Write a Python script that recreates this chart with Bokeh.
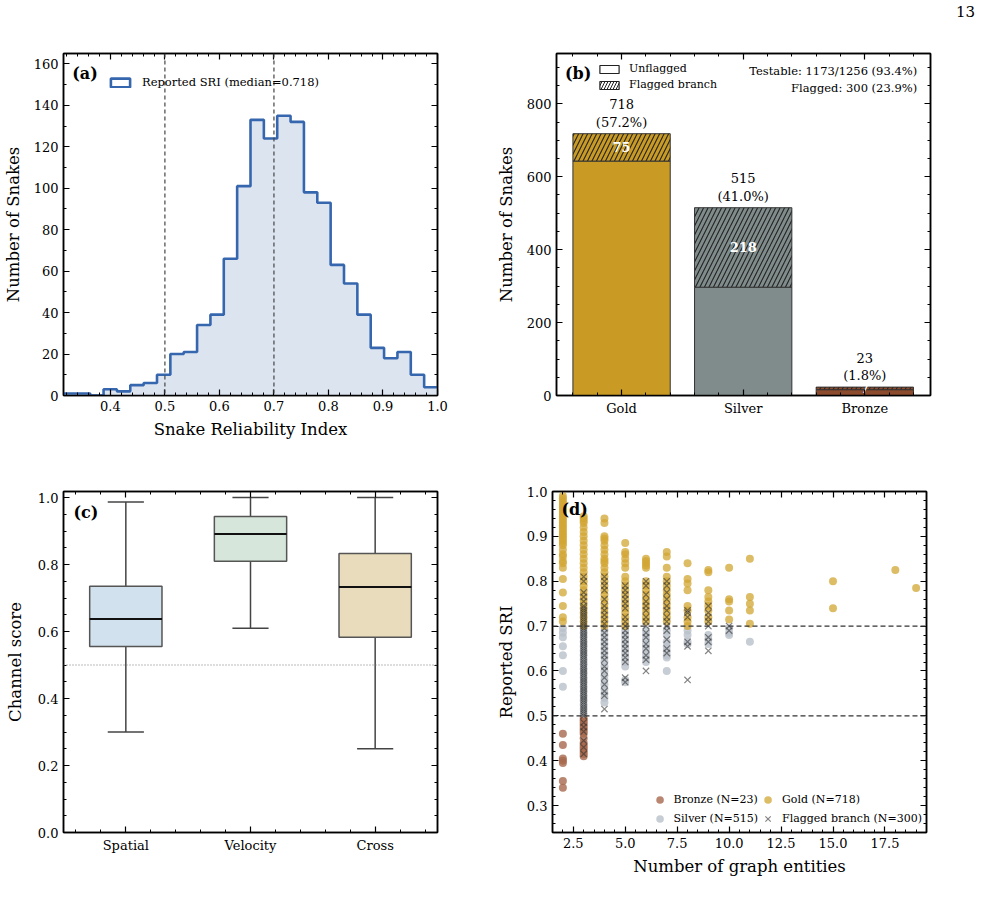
from bokeh.plotting import figure
from bokeh.layouts import column, row
from bokeh.models import (LinearAxis, Legend, LegendItem, Label, Span, FixedTicker,
                          SingleIntervalTicker, Range1d, NumeralTickFormatter, Div)
from bokeh.core.properties import value
from bokeh.embed import file_html
from bokeh.resources import INLINE

FONT = "DejaVu Serif"

# ---------------- data ----------------
# (a) histogram of reported SRI
bin_start = 0.314
bin_width = 0.0245
hist_counts = [1, 1, 0, 3, 2, 5, 6, 10, 20, 21, 34, 39, 66, 101, 133, 124,
               135, 132, 98, 93, 63, 54, 39, 23, 18, 21, 10, 4]
sri_median = 0.718
sri_vlines = [0.5, 0.7]

# (b) tier counts
tiers = ["Gold", "Silver", "Bronze"]
tier_total = [718, 515, 23]
tier_flagged = [75, 218, 7]
n_all = 1256
n_testable = 1173
n_flagged = 300

# (c) channel score boxes
channels = ["Spatial", "Velocity", "Cross"]
ch_whislo = [0.30, 0.61, 0.25]
ch_q1 = [0.555, 0.81, 0.583]
ch_med = [0.637, 0.891, 0.733]
ch_q3 = [0.735, 0.943, 0.833]
ch_whishi = [0.987, 1.0, 1.0]
ch_ref = 0.5

# (d) SRI vs number of graph entities
gold_pts = {
    2: [0.99, 0.985, 0.98, 0.975, 0.97, 0.965, 0.96, 0.955, 0.95, 0.945, 0.94, 0.935,
        0.93, 0.925, 0.92, 0.915, 0.91, 0.905, 0.90, 0.895, 0.89, 0.885, 0.88, 0.87,
        0.86, 0.855, 0.845, 0.84, 0.83, 0.805, 0.775, 0.745, 0.72, 0.71],
    3: [0.945, 0.94, 0.935, 0.93, 0.92, 0.91, 0.90, 0.89, 0.88, 0.87, 0.86, 0.85,
        0.84, 0.83, 0.82, 0.81, 0.80, 0.79, 0.78, 0.77, 0.76, 0.75, 0.74, 0.73,
        0.72, 0.71, 0.70],
    4: [0.94, 0.93, 0.90, 0.895, 0.89, 0.88, 0.87, 0.86, 0.85, 0.845, 0.84, 0.83,
        0.82, 0.81, 0.80, 0.79, 0.78, 0.77, 0.76, 0.75, 0.74, 0.73, 0.72, 0.71, 0.70],
    5: [0.885, 0.865, 0.86, 0.85, 0.84, 0.83, 0.81, 0.80, 0.79, 0.78, 0.77, 0.76,
        0.75, 0.74, 0.73, 0.72, 0.71, 0.70],
    6: [0.85, 0.845, 0.84, 0.835, 0.83, 0.80, 0.79, 0.78, 0.77, 0.76, 0.75, 0.74,
        0.73, 0.72, 0.71],
    7: [0.865, 0.855, 0.83, 0.81, 0.80, 0.79, 0.78, 0.77, 0.76, 0.75, 0.74, 0.73,
        0.72, 0.71],
    8: [0.84, 0.805, 0.795, 0.78, 0.745, 0.735, 0.72, 0.71, 0.70],
    9: [0.825, 0.82, 0.78, 0.765, 0.755, 0.745, 0.735, 0.72, 0.71],
    10: [0.83, 0.76, 0.755, 0.735, 0.715],
    11: [0.85, 0.765, 0.75, 0.735, 0.705],
    15: [0.80, 0.74],
    18: [0.825],
    19: [0.785],
}
silver_pts = {
    2: [0.695, 0.685, 0.675, 0.655, 0.635, 0.60, 0.565],
    3: [0.695, 0.685, 0.675, 0.665, 0.655, 0.645, 0.635, 0.625, 0.615, 0.605,
        0.595, 0.585, 0.575, 0.565, 0.555, 0.545, 0.535, 0.525, 0.515, 0.505],
    4: [0.69, 0.68, 0.67, 0.66, 0.65, 0.64, 0.63, 0.62, 0.61, 0.60, 0.59, 0.58,
        0.57, 0.56, 0.55, 0.54, 0.53],
    5: [0.69, 0.68, 0.67, 0.66, 0.65, 0.64, 0.63, 0.62, 0.61, 0.58, 0.575],
    6: [0.69, 0.68, 0.67, 0.66, 0.65, 0.64, 0.63, 0.62],
    7: [0.69, 0.68, 0.665, 0.655, 0.645, 0.635, 0.63, 0.60],
    8: [0.69, 0.68, 0.665, 0.66],
    9: [0.68, 0.67, 0.66],
    10: [0.695, 0.685, 0.68],
    11: [0.665],
}
bronze_pts = {
    2: [0.46, 0.435, 0.405, 0.40, 0.395, 0.355, 0.34],
    3: [0.495, 0.49, 0.485, 0.48, 0.475, 0.47, 0.465, 0.46, 0.45, 0.44, 0.435,
        0.43, 0.425, 0.42, 0.415, 0.41],
}
flagged_pts = {
    3: [0.81, 0.80, 0.775, 0.765, 0.755, 0.745, 0.74, 0.735, 0.73, 0.725, 0.72,
        0.715, 0.71, 0.705, 0.70, 0.695, 0.69, 0.685, 0.68, 0.675, 0.67, 0.665,
        0.66, 0.655, 0.65, 0.645, 0.64, 0.635, 0.63, 0.625, 0.62, 0.615, 0.61,
        0.605, 0.60, 0.595, 0.59, 0.585, 0.58, 0.575, 0.57, 0.565, 0.56, 0.555,
        0.55, 0.545, 0.54, 0.535, 0.53, 0.525, 0.52, 0.515, 0.51, 0.505, 0.50,
        0.485, 0.475, 0.465, 0.445, 0.43, 0.415],
    4: [0.81, 0.80, 0.79, 0.78, 0.76, 0.745, 0.735, 0.725, 0.715, 0.705, 0.695,
        0.685, 0.675, 0.665, 0.655, 0.645, 0.635, 0.625, 0.61, 0.60, 0.585, 0.57,
        0.555, 0.545, 0.515],
    5: [0.79, 0.78, 0.77, 0.76, 0.75, 0.74, 0.72, 0.71, 0.70, 0.69, 0.68, 0.67,
        0.66, 0.65, 0.64, 0.63, 0.62, 0.585, 0.575],
    6: [0.80, 0.79, 0.77, 0.755, 0.745, 0.735, 0.72, 0.71, 0.70, 0.685, 0.675,
        0.66, 0.65, 0.635, 0.625, 0.60],
    7: [0.80, 0.79, 0.775, 0.76, 0.745, 0.735, 0.72, 0.71, 0.70, 0.69, 0.67,
        0.65, 0.64],
    8: [0.735, 0.73, 0.72, 0.665, 0.655, 0.58],
    9: [0.745, 0.73, 0.72, 0.71, 0.70, 0.675, 0.665, 0.645],
    10: [0.70, 0.69],
}
sri_bands = [0.7, 0.5]
page_number = "13"

TIER_COLORS = ["#c99b24", "#7f8c8b", "#8c4b2c"]
BOX_COLORS = ["#d2e1ee", "#d6e6da", "#e8dcbc"]


def flat(d):
    xs, ys = [], []
    for k, vals in d.items():
        for v in vals:
            xs.append(k)
            ys.append(v)
    return xs, ys


def mkfig(xr, yr, bl, br, bt, bb, fh):
    p = figure(x_range=xr, y_range=yr, frame_width=374, frame_height=fh,
               min_border_left=bl, min_border_right=br, min_border_top=bt,
               min_border_bottom=bb, output_backend="svg", toolbar_location=None)
    p.grid.visible = False
    p.outline_line_color = "black"
    p.outline_line_width = 1.5
    p.background_fill_color = "white"
    p.border_fill_color = "white"
    return p


def dress(p, xt, yt, xlabel=None, ylabel=None, xover=None, xfmt=None, yfmt=None,
          xstand=6, ystand=6):
    p.xaxis.ticker = xt
    p.yaxis.ticker = yt
    if xfmt:
        p.xaxis.formatter = NumeralTickFormatter(format=xfmt)
    if yfmt:
        p.yaxis.formatter = NumeralTickFormatter(format=yfmt)
    if xover:
        p.xaxis.major_label_overrides = xover
    if xlabel:
        p.xaxis.axis_label = xlabel
    if ylabel:
        p.yaxis.axis_label = ylabel
    p.xaxis.axis_label_standoff = xstand
    p.yaxis.axis_label_standoff = ystand
    top = LinearAxis(ticker=xt)
    right = LinearAxis(ticker=yt)
    for ax in (top, right):
        ax.major_label_text_color = None
        ax.major_label_text_font_size = "6px"
        ax.major_label_standoff = 0
    p.add_layout(top, "above")
    p.add_layout(right, "right")
    for ax in p.axis:
        ax.major_tick_in = 6
        ax.major_tick_out = 0
        ax.minor_tick_in = 3
        ax.minor_tick_out = 0
        ax.axis_line_width = 1.5
        ax.axis_line_color = "black"
        ax.major_tick_line_width = 1.2
        ax.minor_tick_line_width = 1.0
        ax.major_tick_line_color = "black"
        ax.minor_tick_line_color = "black"
        ax.major_label_text_font = FONT
        ax.axis_label_text_font = FONT
        ax.axis_label_text_font_style = "normal"
        ax.axis_label_text_font_size = "16.5px"
        ax.axis_label_text_color = "black"
    for ax in p.below + p.left:
        ax.major_label_text_font_size = "13px"
        ax.major_label_text_color = "black"
        ax.major_label_standoff = 5


def panel_label(p, txt, x, y):
    p.add_layout(Label(x=x, y=y, text=txt, text_font=FONT, text_font_style="bold",
                       text_font_size="16px", text_baseline="top", text_align="left",
                       text_color="black"))


def legend_style(leg):
    leg.border_line_color = None
    leg.background_fill_alpha = 0
    leg.label_text_font = FONT
    leg.label_text_color = "black"
    leg.padding = 2
    leg.margin = 0


TOP_PAD = 28

# ---------------- (a) ----------------
edges = [bin_start + i * bin_width for i in range(len(hist_counts) + 1)]
pa = mkfig(Range1d(bin_start, 1.0), Range1d(0, 165), 63, 56, 53 - TOP_PAD, 48, 342)
pa.varea_step(x=edges, y1=[0] * len(edges), y2=hist_counts + [hist_counts[-1]],
              step_mode="after", fill_color="#dce4f0")
pa.step(x=edges, y=hist_counts + [hist_counts[-1]], mode="after",
        line_color="#3667ae", line_width=2.6)
for v in sri_vlines:
    pa.add_layout(Span(location=v, dimension="height", line_color="#444444",
                       line_dash="4 3", line_width=1.2))
proxy_a = pa.quad(left=[5], right=[6], bottom=[500], top=[600], fill_color="white",
                  line_color="#3667ae", line_width=2.6)
leg_a = Legend(items=[LegendItem(label=f"Reported SRI (median={sri_median:.3f})",
                                 renderers=[proxy_a])],
               location=(45, 306), label_text_font_size="11.5px",
               glyph_width=24, glyph_height=11, label_standoff=10)
legend_style(leg_a)
pa.add_layout(leg_a)
panel_label(pa, "(a)", 0.330, 160)
dress(pa, SingleIntervalTicker(interval=0.1, num_minor_ticks=5),
      SingleIntervalTicker(interval=20, num_minor_ticks=2),
      xlabel="Snake Reliability Index", ylabel="Number of Snakes", xfmt="0.0",
      xstand=6, ystand=8)

# ---------------- (b) ----------------
xs_b = list(range(len(tiers)))
unflagged = [t - f for t, f in zip(tier_total, tier_flagged)]
pb = mkfig(Range1d(-0.535, 2.54), Range1d(0, 938), 57, 57, 53 - TOP_PAD, 48, 342)
pb.vbar(x=xs_b, width=0.8, bottom=0, top=unflagged, fill_color=TIER_COLORS,
        line_color="#333333", line_width=1)
pb.vbar(x=xs_b, width=0.8, bottom=unflagged, top=tier_total, fill_color=TIER_COLORS,
        line_color="#333333", line_width=1, hatch_pattern="/", hatch_color="#222222",
        hatch_scale=9, hatch_weight=1.1)
pb.text(x=xs_b, y=tier_total,
        text=[f"{t}\n({t / n_all * 100:.1f}%)" for t in tier_total],
        text_align="center", text_baseline="bottom", y_offset=-4,
        text_font=value(FONT), text_font_size="13px", text_color="black",
        text_line_height=1.15)
pb.text(x=xs_b, y=[(u + t) / 2 for u, t in zip(unflagged, tier_total)],
        text=[str(f) for f in tier_flagged], text_align="center",
        text_baseline="middle", text_font=value(FONT), text_font_size="13px",
        text_font_style="bold", text_color="white")
pb.text(x=[2.43], y=[909],
        text=[f"Testable: {n_testable}/{n_all} ({n_testable / n_all * 100:.1f}%)\n"
              f"Flagged: {n_flagged} ({n_flagged / n_all * 100:.1f}%)"],
        text_align="right", text_baseline="top", text_font=value(FONT),
        text_font_size="11.5px", text_color="black", text_line_height=1.2)
proxy_u = pb.quad(left=[10], right=[11], bottom=[5000], top=[6000], fill_color="white",
                  line_color="#222222", line_width=1.2)
proxy_f = pb.quad(left=[10], right=[11], bottom=[5000], top=[6000], fill_color="white",
                  line_color="#222222", line_width=1.2, hatch_pattern="/",
                  hatch_color="#222222", hatch_scale=6, hatch_weight=1)
leg_b = Legend(items=[LegendItem(label="Unflagged", renderers=[proxy_u]),
                      LegendItem(label="Flagged branch", renderers=[proxy_f])],
               location=(41, 304), label_text_font_size="11px",
               glyph_width=24, glyph_height=10, spacing=3,
               label_standoff=8, label_height=12)
legend_style(leg_b)
pb.add_layout(leg_b)
panel_label(pb, "(b)", -0.465, 909)
tick_b = FixedTicker(ticks=xs_b, minor_ticks=[-0.4, -0.2, 0.2, 0.4, 0.6, 0.8, 1.2,
                                             1.4, 1.6, 1.8, 2.2, 2.4])
dress(pb, tick_b, SingleIntervalTicker(interval=200, num_minor_ticks=4),
      ylabel="Number of Snakes", xover={i: t for i, t in enumerate(tiers)}, ystand=8)

# ---------------- (c) ----------------
xs_c = [1, 2, 3]
pc = mkfig(Range1d(0.5, 3.5), Range1d(0, 1.018), 63, 56, 48, 68, 341)
pc.add_layout(Span(location=ch_ref, dimension="width", line_color="#777777",
                   line_dash="1 2", line_width=1))
pc.segment(x0=xs_c, y0=ch_q3, x1=xs_c, y1=ch_whishi, line_color="#444444", line_width=1.5)
pc.segment(x0=xs_c, y0=ch_whislo, x1=xs_c, y1=ch_q1, line_color="#444444", line_width=1.5)
pc.segment(x0=[x - 0.145 for x in xs_c], y0=ch_whishi, x1=[x + 0.145 for x in xs_c],
           y1=ch_whishi, line_color="#444444", line_width=1.5)
pc.segment(x0=[x - 0.145 for x in xs_c], y0=ch_whislo, x1=[x + 0.145 for x in xs_c],
           y1=ch_whislo, line_color="#444444", line_width=1.5)
pc.vbar(x=xs_c, width=0.58, bottom=ch_q1, top=ch_q3, fill_color=BOX_COLORS,
        line_color="#555555", line_width=1.5)
pc.segment(x0=[x - 0.29 for x in xs_c], y0=ch_med, x1=[x + 0.29 for x in xs_c],
           y1=ch_med, line_color="#111111", line_width=2)
panel_label(pc, "(c)", 0.58, 0.985)
tick_c = FixedTicker(ticks=xs_c, minor_ticks=[0.6, 0.8, 1.2, 1.4, 1.6, 1.8, 2.2, 2.4,
                                             2.6, 2.8, 3.2, 3.4])
dress(pc, tick_c, SingleIntervalTicker(interval=0.2, num_minor_ticks=4),
      ylabel="Channel score", xover={i + 1: c for i, c in enumerate(channels)},
      yfmt="0.0", ystand=10)

# ---------------- (d) ----------------
pd_ = mkfig(Range1d(1.5, 19.5), Range1d(0.24, 1.0), 56, 57, 48, 68, 341)
for v in sri_bands:
    pd_.add_layout(Span(location=v, dimension="width", line_color="#333333",
                        line_dash="5 3", line_width=1.1))
bx, by = flat(bronze_pts)
sx, sy = flat(silver_pts)
gx, gy = flat(gold_pts)
fx, fy = flat(flagged_pts)
rb = pd_.scatter(bx, by, size=8, color="#a8694d", alpha=0.8, line_color=None)
rs = pd_.scatter(sx, sy, size=8, color="#b9c1c9", alpha=0.8, line_color=None)
rg = pd_.scatter(gx, gy, size=8, color="#d2a633", alpha=0.75, line_color=None)
rf = pd_.scatter(fx, fy, marker="x", size=9, line_color="#333333", line_alpha=0.6,
                 line_width=1.2)
leg_d = Legend(items=[LegendItem(label=f"Bronze (N={tier_total[2]})", renderers=[rb]),
                      LegendItem(label=f"Silver (N={tier_total[1]})", renderers=[rs]),
                      LegendItem(label=f"Gold (N={tier_total[0]})", renderers=[rg]),
                      LegendItem(label=f"Flagged branch (N={n_flagged})", renderers=[rf])],
               ncols=2, location="bottom_right", label_text_font_size="11px",
               glyph_width=20, glyph_height=19, spacing=-3, label_standoff=4,
               label_height=14)
legend_style(leg_d)
leg_d.margin = 4
pd_.add_layout(leg_d)
panel_label(pd_, "(d)", 1.93, 0.982)
dress(pd_, SingleIntervalTicker(interval=2.5, num_minor_ticks=5),
      SingleIntervalTicker(interval=0.1, num_minor_ticks=5),
      xlabel="Number of graph entities", ylabel="Reported SRI", xfmt="0.0",
      yfmt="0.0", ystand=8)

header = Div(text=page_number, width=981, height=TOP_PAD, margin=(0, 0, 0, 0),
             styles={"font-family": FONT, "font-size": "15px", "text-align": "right",
                     "padding-right": "6px", "padding-top": "2px",
                     "box-sizing": "border-box", "color": "black"})

layout = column(header, row(pa, pb), row(pc, pd_))
open("out.html", "w").write(file_html(layout, INLINE))
